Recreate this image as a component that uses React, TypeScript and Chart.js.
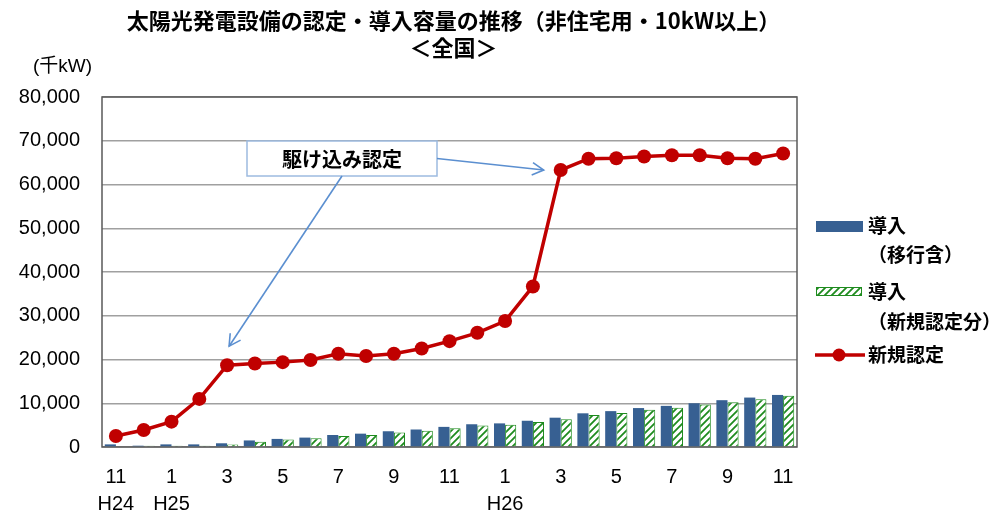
import React, { useEffect, useRef } from "react";
import { Chart, registerables } from "chart.js";

Chart.register(...registerables);

const months = [11, 12, 1, 2, 3, 4, 5, 6, 7, 8, 9, 10, 11, 12, 1, 2, 3, 4, 5, 6, 7, 8, 9, 10, 11];
const eras = ["H24", "", "H25", "", "", "", "", "", "", "", "", "", "", "", "H26", "", "", "", "", "", "", "", "", "", ""];
const certified = [2500, 3900, 5800, 11000, 18700, 19100, 19400, 19900, 21300, 20800, 21300, 22500, 24200, 26100, 28800, 36700, 63300, 65900, 66000, 66400, 66700, 66700, 66000, 65900, 67100];
const installedIncl = [600, 300, 600, 600, 850, 1500, 1850, 2150, 2750, 3050, 3600, 4000, 4600, 5200, 5400, 6000, 6700, 7700, 8200, 8900, 9400, 10000, 10700, 11300, 11900];
const installedNew = [200, 300, 300, 300, 600, 1200, 1700, 2000, 2500, 2750, 3300, 3700, 4300, 4900, 5100, 5700, 6350, 7300, 7800, 8500, 9000, 9700, 10250, 10900, 11700];
const yTicks = [0, 10000, 20000, 30000, 40000, 50000, 60000, 70000, 80000];

const titleLine1 = "太陽光発電設備の認定・導入容量の推移（非住宅用・10kW以上）";
const titleLine2 = "＜全国＞";
const unitLabel = "(千kW)";
const calloutText = "駆け込み認定";
const legendBlue = ["導入", "（移行含）"];
const legendGreen = ["導入", "（新規認定分）"];
const legendRed = "新規認定";

const BLUE = "#376092";
const GREEN = "#1E8B1E";
const RED = "#C00000";
const ARROW = "#5B8FD0";
const JP = "'Noto Sans CJK JP', sans-serif";
const NUM = "'Liberation Sans', Arial, sans-serif";

function makePattern(): CanvasPattern | string {
  const c = document.createElement("canvas");
  c.width = 7;
  c.height = 7;
  const g = c.getContext("2d");
  if (!g) return "#ffffff";
  g.fillStyle = "#ffffff";
  g.fillRect(0, 0, 7, 7);
  g.strokeStyle = GREEN;
  g.lineWidth = 1.8;
  g.beginPath();
  g.moveTo(-1, 8);
  g.lineTo(8, -1);
  g.moveTo(-1, 1);
  g.lineTo(1, -1);
  g.moveTo(6, 8);
  g.lineTo(8, 6);
  g.stroke();
  const p = g.createPattern(c, "repeat");
  return p || "#ffffff";
}

function arrow(ctx: CanvasRenderingContext2D, x1: number, y1: number, x2: number, y2: number) {
  ctx.beginPath();
  ctx.moveTo(x1, y1);
  ctx.lineTo(x2, y2);
  ctx.stroke();
  const a = Math.atan2(y2 - y1, x2 - x1);
  const L = 13;
  ctx.beginPath();
  ctx.moveTo(x2 - L * Math.cos(a - 0.5), y2 - L * Math.sin(a - 0.5));
  ctx.lineTo(x2, y2);
  ctx.lineTo(x2 - L * Math.cos(a + 0.5), y2 - L * Math.sin(a + 0.5));
  ctx.stroke();
}

const decorPlugin = {
  id: "decor",
  beforeDatasetsDraw(chart: any) {
    const { ctx, chartArea } = chart;
    ctx.save();
    ctx.strokeStyle = "#5a5a5a";
    ctx.lineWidth = 1.5;
    ctx.strokeRect(chartArea.left, chartArea.top, chartArea.right - chartArea.left, chartArea.bottom - chartArea.top);
    ctx.restore();
  },
  afterDraw(chart: any) {
    const { ctx, chartArea, scales } = chart;
    const xs = scales.x;
    const ys = scales.y;
    ctx.save();
    // titles
    const cx = (chartArea.left + chartArea.right) / 2 + 4;
    ctx.fillStyle = "#000";
    ctx.textAlign = "center";
    ctx.textBaseline = "middle";
    ctx.font = `bold 22px ${JP}`;
    ctx.fillText(titleLine1, cx, 21);
    ctx.fillText(titleLine2, cx, 48);
    // unit
    ctx.textAlign = "left";
    ctx.font = `19px 'Liberation Sans', 'Noto Sans CJK JP', sans-serif`;
    ctx.fillText(unitLabel, 33, 67);

    // callout box
    const bx = chartArea.left + 145;
    const by = chartArea.top + 44;
    const bw = 190;
    const bh = 35;
    ctx.fillStyle = "#ffffff";
    ctx.fillRect(bx, by, bw, bh);
    ctx.strokeStyle = "#9DBBE0";
    ctx.lineWidth = 1.5;
    ctx.strokeRect(bx, by, bw, bh);
    ctx.fillStyle = "#000";
    ctx.textAlign = "center";
    ctx.font = `bold 20px ${JP}`;
    ctx.fillText(calloutText, bx + bw / 2, by + bh / 2 + 1);

    // arrows
    ctx.strokeStyle = ARROW;
    ctx.lineWidth = 1.6;
    arrow(ctx, bx + bw / 2, by + bh, xs.getPixelForValue(4) + 2, ys.getPixelForValue(certified[4]) - 19);
    arrow(ctx, bx + bw, by + bh / 2, xs.getPixelForValue(16) - 17, ys.getPixelForValue(certified[16]));

    // legend
    const lx = 816;
    ctx.fillStyle = BLUE;
    ctx.fillRect(lx, 221, 47, 11);
    ctx.fillStyle = chart.$pattern;
    ctx.fillRect(lx, 287, 46, 9);
    ctx.strokeStyle = GREEN;
    ctx.lineWidth = 1;
    ctx.strokeRect(lx + 0.5, 287.5, 45, 8);
    ctx.strokeStyle = RED;
    ctx.lineWidth = 3.5;
    ctx.beginPath();
    ctx.moveTo(lx - 1, 355);
    ctx.lineTo(lx + 49, 355);
    ctx.stroke();
    ctx.fillStyle = RED;
    ctx.beginPath();
    ctx.arc(lx + 23, 355, 6.5, 0, Math.PI * 2);
    ctx.fill();

    ctx.fillStyle = "#000";
    ctx.textAlign = "left";
    ctx.font = `bold 19px ${JP}`;
    const tx = 868;
    ctx.fillText(legendBlue[0], tx, 226);
    ctx.fillText(legendBlue[1], tx, 255);
    ctx.fillText(legendGreen[0], tx, 292);
    ctx.fillText(legendGreen[1], tx, 322);
    ctx.fillText(legendRed, tx, 355);
    ctx.restore();
  },
};

export default function App() {
  const ref = useRef<HTMLCanvasElement | null>(null);
  useEffect(() => {
    if (!ref.current) return;
    const pattern = makePattern();
    const chart: any = new Chart(ref.current, {
      type: "bar",
      data: {
        labels: months.map((m, i) => (eras[i] ? `${eras[i]}/${m}` : String(m))),
        datasets: [
          {
            type: "line",
            label: legendRed,
            data: certified,
            borderColor: RED,
            backgroundColor: RED,
            borderWidth: 3.5,
            pointRadius: 7,
            pointBackgroundColor: RED,
            pointBorderWidth: 0,
            tension: 0,
            order: 0,
          } as any,
          {
            type: "bar",
            label: legendBlue.join(""),
            data: installedIncl,
            backgroundColor: BLUE,
            borderWidth: 0,
            categoryPercentage: 0.8,
            barPercentage: 1.0,
            order: 1,
          },
          {
            type: "bar",
            label: legendGreen.join(""),
            data: installedNew,
            backgroundColor: pattern as any,
            borderColor: GREEN,
            borderWidth: 1,
            categoryPercentage: 0.8,
            barPercentage: 1.0,
            order: 2,
          },
        ],
      },
      options: {
        responsive: false,
        animation: false,
        layout: { padding: { left: 8, right: 199, top: 97, bottom: 0 } },
        plugins: {
          legend: { display: false },
          title: { display: false },
          tooltip: { enabled: false },
        },
        scales: {
          x: {
            grid: { display: false, drawTicks: false },
            border: { display: false },
            afterFit: (s: any) => {
              s.height = 70;
            },
            ticks: {
              autoSkip: false,
              maxRotation: 0,
              padding: 17,
              color: "#000",
              font: { family: NUM, size: 20, lineHeight: 1.35 },
              callback: (_v: any, i: number) => {
                if (i % 2 !== 0) return "";
                return eras[i] ? [String(months[i]), eras[i]] : String(months[i]);
              },
            },
          },
          y: {
            min: 0,
            max: 80000,
            afterFit: (s: any) => {
              s.width = 94;
            },
            afterBuildTicks: (s: any) => {
              s.ticks = yTicks.map((v) => ({ value: v }));
            },
            grid: { color: "#a0a0a0", lineWidth: 1.5, drawTicks: false },
            border: { display: false },
            ticks: {
              padding: 22,
              color: "#000",
              font: { family: NUM, size: 20 },
              callback: (v: any) => Number(v).toLocaleString("en-US"),
            },
          },
        },
      },
      plugins: [decorPlugin],
    });
    chart.$pattern = pattern;
    chart.draw();
    return () => chart.destroy();
  }, []);
  return (
    <canvas
      ref={ref}
      width={996}
      height={517}
      style={{ position: "absolute", left: 0, top: 0, width: 996, height: 517, display: "block", background: "#fff" }}
    />
  );
}
